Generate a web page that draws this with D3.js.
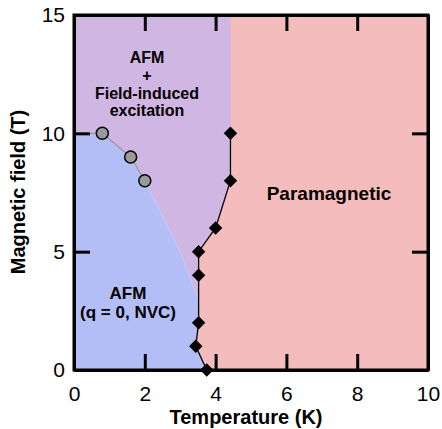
<!DOCTYPE html>
<html>
<head>
<meta charset="utf-8">
<script src="https://cdn.jsdelivr.net/npm/d3@7"></script>
<style>
  body { margin: 0; background: #fff; }
  text { font-family: "Liberation Sans", Arial, Helvetica, sans-serif; }
</style>
</head>
<body>
<svg id="chart" width="442" height="429"></svg>
<script>
// transition points (black diamonds), T in K, B in T
const tnT = [3.75, 3.44, 3.52, 3.52, 3.52, 4.0, 4.42, 4.42]
const tnB = [0, 1, 2, 4, 5, 6, 8, 10]

// field-induced boundary (gray circles)
const fiT = [0.8, 1.6, 2.0]
const fiB = [10, 9, 8]

// lower edge of the field-induced region, continuing from the last circle
const edgeT = [3.0, 3.45, 3.52]
const edgeB = [5.0, 3.2, 3.0]

const xTicks = [0, 2, 4, 6, 8, 10]
const yTicks = [0, 5, 10, 15]

const margin = {top: 15, right: 14, bottom: 59, left: 74}
const width = 442 - margin.left - margin.right
const height = 429 - margin.top - margin.bottom

let svg = d3.select('#chart')
let g = svg.append('g').attr('transform', `translate(${margin.left},${margin.top})`)

let x = d3.scaleLinear().domain([0, 10]).range([0, width])
let y = d3.scaleLinear().domain([0, 15]).range([height, 0])

let tn = tnT.map((d, i) => [d, tnB[i]])
let fi = fiT.map((d, i) => [d, fiB[i]])
let edge = edgeT.map((d, i) => [d, edgeB[i]])

let poly = d3.line().x(d => x(d[0])).y(d => y(d[1]))

// paramagnetic background
g.append('rect')
    .attr('width', width).attr('height', height)
    .attr('fill', '#f4bcbd')

// AFM + field-induced (everything left of the transition line)
let purple = [[0, 0], ...tn, [tnT[tnT.length - 1], 15], [0, 15]]
g.append('path')
    .attr('d', poly(purple) + 'Z')
    .attr('fill', '#d0b6e2')

// AFM (q = 0, NVC)
let lowTn = tn.filter(d => d[1] < 3)
let blue = [[0, 0], [0, 10], ...fi, ...edge, ...lowTn.slice().reverse()]
g.append('path')
    .attr('d', poly(blue) + 'Z')
    .attr('fill', '#b3bdf6')
    .attr('stroke', '#c8d0f4')
    .attr('stroke-width', 0.8)

// gray line + circles
g.append('path')
    .attr('d', poly([[0, 10], ...fi]))
    .attr('fill', 'none')
    .attr('stroke', '#999')
    .attr('stroke-width', 1.2)

// black transition line
g.append('path')
    .attr('d', poly(tn))
    .attr('fill', 'none')
    .attr('stroke', '#000')
    .attr('stroke-width', 1.3)

g.selectAll('.dia')
    .data(tn)
    .enter().append('path')
    .attr('class', 'dia')
    .attr('d', d3.symbol(d3.symbolDiamond2, 115))
    .attr('transform', d => `translate(${x(d[0])},${y(d[1])})`)
    .attr('fill', '#000')

g.selectAll('.circ')
    .data(fi)
    .enter().append('circle')
    .attr('class', 'circ')
    .attr('cx', d => x(d[0]))
    .attr('cy', d => y(d[1]))
    .attr('r', 6)
    .attr('fill', '#9a9a9a')
    .attr('stroke', '#000')
    .attr('stroke-width', 1.5)

// axes with inward ticks on all four sides
let tickLen = 16
let frame = g.append('g')

frame.append('g')
    .attr('transform', `translate(0,${height})`)
    .call(d3.axisBottom(x).tickValues(xTicks).tickSizeInner(-tickLen).tickSizeOuter(0).tickPadding(16))
frame.append('g')
    .call(d3.axisTop(x).tickValues(xTicks).tickSizeInner(-tickLen).tickSizeOuter(0).tickFormat(''))
frame.append('g')
    .call(d3.axisLeft(y).tickValues(yTicks).tickSizeInner(-tickLen).tickSizeOuter(0).tickPadding(9))
frame.append('g')
    .attr('transform', `translate(${width},0)`)
    .call(d3.axisRight(y).tickValues(yTicks).tickSizeInner(-tickLen).tickSizeOuter(0).tickFormat(''))

frame.selectAll('.domain').attr('stroke', '#000').attr('stroke-width', 3)
frame.selectAll('.tick line').attr('stroke', '#000').attr('stroke-width', 3)
frame.selectAll('.tick text')
    .attr('font-size', 21)
    .attr('font-family', '"Liberation Sans", Arial, sans-serif')
    .attr('fill', '#000')
frame.append('rect')
    .attr('width', width).attr('height', height)
    .attr('fill', 'none').attr('stroke', '#000').attr('stroke-width', 3)

// region labels
let labels = [
    {t: 'AFM', px: 73, py: 42, fs: 16},
    {t: '+', px: 73, py: 60, fs: 16},
    {t: 'Field-induced', px: 73, py: 78, fs: 16},
    {t: 'excitation', px: 73, py: 95, fs: 16},
    {t: 'Paramagnetic', px: 255, py: 178, fs: 19},
    {t: 'AFM', px: 54, py: 278, fs: 17},
    {t: '(q = 0, NVC)', px: 54, py: 297, fs: 17}
]
g.selectAll('.lab')
    .data(labels)
    .enter().append('text')
    .attr('class', 'lab')
    .attr('x', d => d.px)
    .attr('y', d => d.py)
    .attr('text-anchor', 'middle')
    .attr('dominant-baseline', 'central')
    .attr('font-weight', 'bold')
    .attr('font-size', d => d.fs)
    .text(d => d.t)

// axis titles
svg.append('text')
    .attr('x', 246)
    .attr('y', 417)
    .attr('text-anchor', 'middle')
    .attr('dominant-baseline', 'central')
    .attr('font-weight', 'bold')
    .attr('font-size', 20)
    .text('Temperature (K)')

svg.append('text')
    .attr('transform', 'translate(18,192) rotate(-90)')
    .attr('text-anchor', 'middle')
    .attr('dominant-baseline', 'central')
    .attr('font-weight', 'bold')
    .attr('font-size', 20)
    .text('Magnetic field (T)')
</script>
</body>
</html>
